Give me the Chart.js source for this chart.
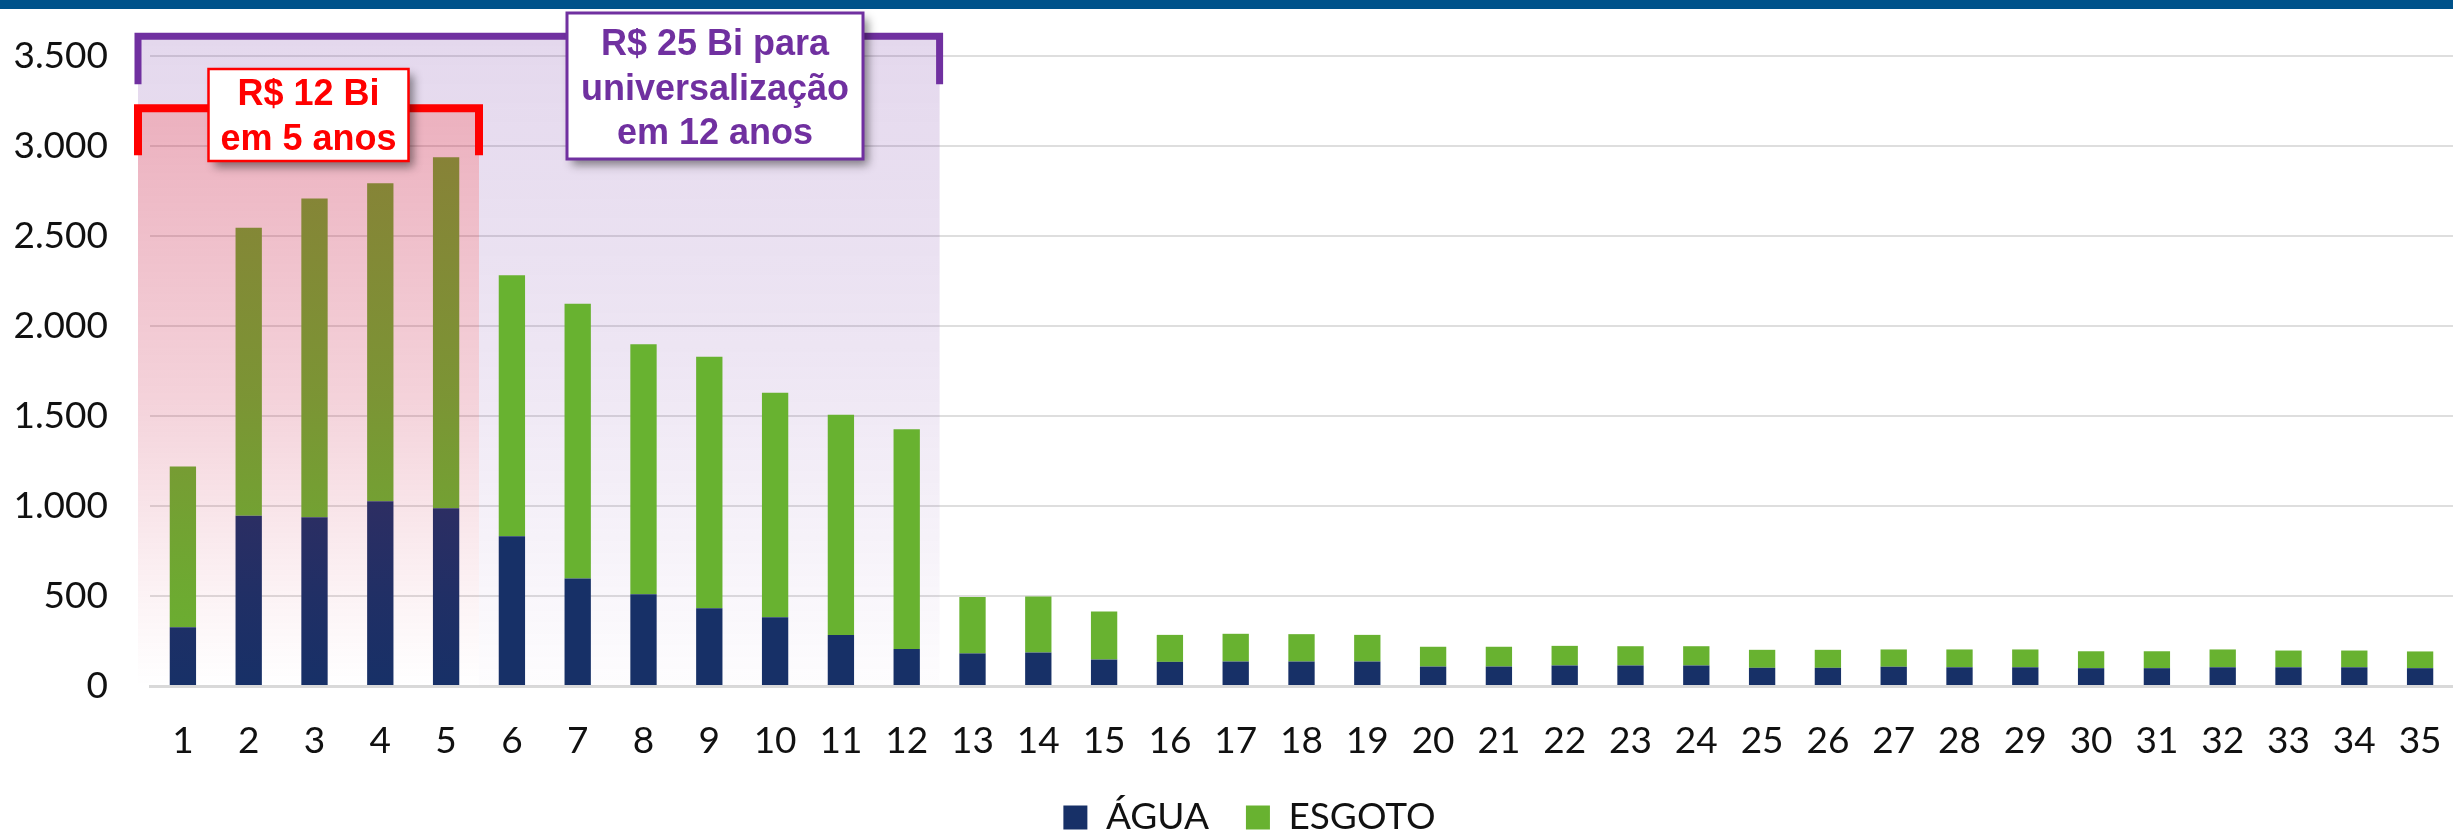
<!DOCTYPE html>
<html>
<head>
<meta charset="utf-8">
<script src="https://cdn.jsdelivr.net/npm/chart.js@4.4.1/dist/chart.umd.min.js"></script>
<style>
  html, body { margin: 0; padding: 0; background: #fff; }
  #grafico { display: block; }
</style>
</head>
<body>
<canvas id="grafico" width="2453" height="833"></canvas>
<script>
// anos do plano
const anos = ['1', '2', '3', '4', '5', '6', '7', '8', '9', '10', '11', '12', '13', '14', '15', '16', '17', '18',
  '19', '20', '21', '22', '23', '24', '25', '26', '27', '28', '29', '30', '31', '32', '33', '34', '35'];

// investimentos (R$ milhões)
const agua = [327, 946, 938, 1027, 988, 832, 597, 510, 432, 382, 284, 206, 181, 186, 147, 134, 136, 136,
  136, 108, 108, 114, 114, 114, 101, 101, 107, 104, 104, 99, 99, 104, 104, 104, 99];
const esgoto = [893, 1600, 1770, 1766, 1950, 1450, 1526, 1389, 1397, 1247, 1223, 1221, 314, 311, 267, 150, 154, 152,
  148, 110, 110, 109, 107, 107, 100, 100, 96, 99, 99, 94, 94, 99, 93, 93, 93];

const yTicks = [0, 500, 1000, 1500, 2000, 2500, 3000, 3500];

const AZUL = '#173067';
const VERDE = '#68B230';
const ROXO = '#7030A0';
const VERMELHO = '#FF0000';

function fmt(v) {
  return String(v).replace(/\B(?=(\d{3})+(?!\d))/g, '.');
}

function caixa(ctx, x, y, w, h, cor, borda, linhas, cy) {
  ctx.save();
  ctx.shadowColor = 'rgba(0,0,0,0.45)';
  ctx.shadowBlur = 9;
  ctx.shadowOffsetX = 5;
  ctx.shadowOffsetY = 6;
  ctx.fillStyle = '#fff';
  ctx.fillRect(x, y, w, h);
  ctx.restore();
  ctx.save();
  ctx.strokeStyle = cor;
  ctx.lineWidth = borda;
  ctx.strokeRect(x, y, w, h);
  ctx.fillStyle = cor;
  ctx.font = 'bold 36px "Liberation Sans", Arial, sans-serif';
  ctx.textAlign = 'center';
  ctx.textBaseline = 'middle';
  linhas.forEach((t, i) => ctx.fillText(t, x + w / 2, cy[i]));
  ctx.restore();
}

function chave(ctx, x1, x2, yTop, yBot, cor, lw) {
  ctx.save();
  ctx.strokeStyle = cor;
  ctx.lineWidth = lw;
  ctx.lineJoin = 'miter';
  ctx.beginPath();
  ctx.moveTo(x1, yBot);
  ctx.lineTo(x1, yTop);
  ctx.lineTo(x2, yTop);
  ctx.lineTo(x2, yBot);
  ctx.stroke();
  ctx.restore();
}

function faixasX(chart) {
  const xs = chart.scales.x;
  const passo = xs.getPixelForValue(1) - xs.getPixelForValue(0);
  return {
    esq: chart.chartArea.left - 12,
    fim5: xs.getPixelForValue(4) + passo / 2,
    fim12: xs.getPixelForValue(11) + passo / 2
  };
}

const faixas = {
  id: 'faixas',
  afterLayout(chart) {
    // legenda um pouco à direita, como no original
    chart.legend.left += 23;
    chart.legend.right += 23;
  },
  beforeDraw(chart) {
    const ctx = chart.ctx;
    ctx.save();
    ctx.fillStyle = '#00528A';
    ctx.fillRect(0, 0, chart.width, 9);
    ctx.restore();
  },
  beforeDatasetsDraw(chart) {
    const ctx = chart.ctx;
    const ys = chart.scales.y;
    const f = faixasX(chart);
    const topo = ys.getPixelForValue(3610);
    const meio = ys.getPixelForValue(3210);
    const base = ys.getPixelForValue(0);
    const g = ctx.createLinearGradient(0, topo, 0, base);
    g.addColorStop(0, 'rgba(112,48,160,0.19)');
    g.addColorStop(0.5, 'rgba(112,48,160,0.12)');
    g.addColorStop(1, 'rgba(112,48,160,0.01)');
    ctx.save();
    ctx.fillStyle = g;
    ctx.fillRect(f.esq, topo, f.fim12 - f.esq, meio - topo);
    ctx.fillRect(f.fim5, meio, f.fim12 - f.fim5, base - meio);
    ctx.restore();
  },
  afterDatasetsDraw(chart) {
    const ctx = chart.ctx;
    const ys = chart.scales.y;
    const f = faixasX(chart);
    const topo = ys.getPixelForValue(3610);
    const meio = ys.getPixelForValue(3210);
    const base = ys.getPixelForValue(0);
    const g = ctx.createLinearGradient(0, meio, 0, base);
    g.addColorStop(0, 'rgba(200,30,70,0.35)');
    g.addColorStop(0.5, 'rgba(200,30,70,0.2)');
    g.addColorStop(0.85, 'rgba(200,30,70,0.05)');
    g.addColorStop(1, 'rgba(200,30,70,0.0)');
    ctx.save();
    ctx.fillStyle = g;
    ctx.fillRect(f.esq, meio, f.fim5 - f.esq, base - meio);
    ctx.restore();

    chave(ctx, f.esq, f.fim12, topo, topo + 48, ROXO, 7);
    chave(ctx, f.esq, f.fim5, meio, meio + 47, VERMELHO, 8);

    const cx5 = (f.esq + f.fim5) / 2;
    caixa(ctx, cx5 - 100, 69, 200, 92, VERMELHO, 2.5, ['R$ 12 Bi', 'em 5 anos'], [95, 140]);
    caixa(ctx, 567, 13, 296, 146, ROXO, 3, ['R$ 25 Bi para', 'universalização', 'em 12 anos'], [45, 90, 134]);
  }
};

new Chart(document.getElementById('grafico'), {
  type: 'bar',
  data: {
    labels: anos,
    datasets: [
      { label: 'ÁGUA', data: agua, backgroundColor: AZUL },
      { label: 'ESGOTO', data: esgoto, backgroundColor: VERDE }
    ]
  },
  options: {
    responsive: false,
    animation: false,
    devicePixelRatio: 1,
    layout: { padding: { top: 56, right: 0, bottom: 0, left: 0 } },
    datasets: { bar: { categoryPercentage: 1, barPercentage: 0.4 } },
    plugins: {
      tooltip: { enabled: false },
      legend: {
        position: 'bottom',
        maxHeight: 71,
        labels: {
          font: { family: 'Lato', size: 37 },
          color: '#111',
          boxWidth: 24,
          boxHeight: 24,
          padding: 37
        }
      }
    },
    scales: {
      x: {
        stacked: true,
        grid: { display: false, drawTicks: false },
        border: { display: true, color: '#D9D9D9', width: 3 },
        ticks: {
          font: { family: 'Lato', size: 37 },
          color: '#111',
          padding: 33,
          autoSkip: false,
          maxRotation: 0
        },
        afterFit(s) {
          s.height = 76;
          s.paddingLeft = 0;
          s.paddingRight = 0;
        }
      },
      y: {
        stacked: true,
        min: 0,
        max: 3500,
        afterBuildTicks(s) { s.ticks = yTicks.map(v => ({ value: v })); },
        grid: { color: '#DEDEDE', lineWidth: 2, drawTicks: false },
        border: { display: false },
        ticks: {
          font: { family: 'Lato', size: 37 },
          color: '#111',
          padding: 42,
          callback: v => fmt(v)
        },
        afterFit(s) {
          s.width = 150;
          s.paddingTop = 0;
          s.paddingBottom = 0;
        }
      }
    }
  },
  plugins: [faixas]
});
</script>
</body>
</html>
